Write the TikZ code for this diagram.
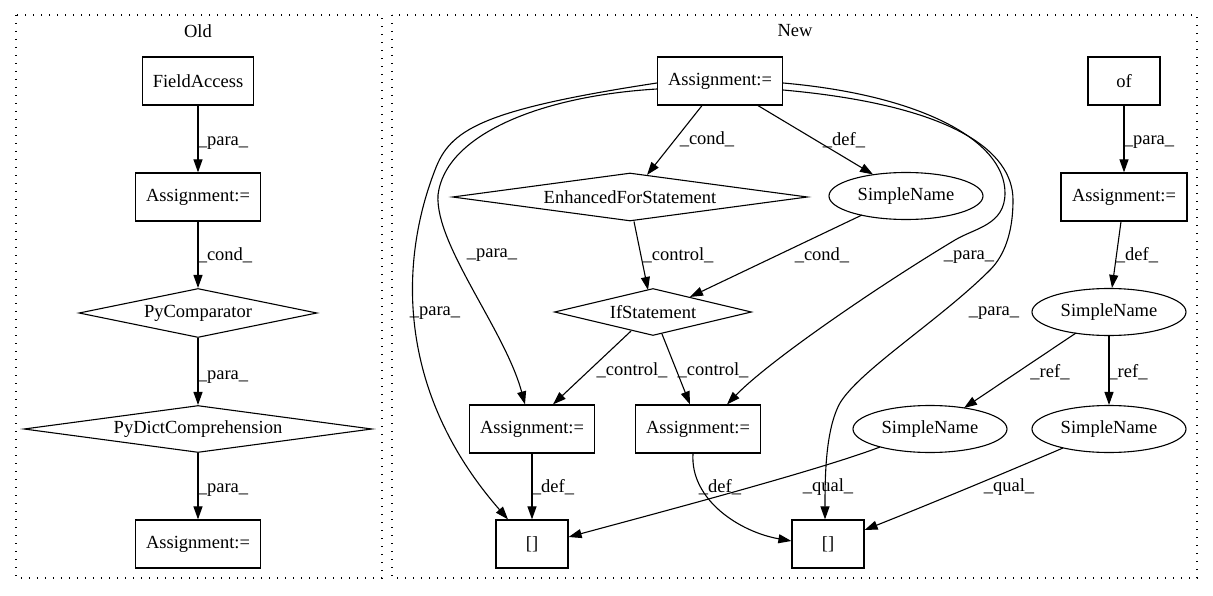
\documentclass[tikz,border=0pt]{standalone}
\usepackage{fontspec}
\setmainfont{Liberation Serif}
\usetikzlibrary{shapes.geometric,arrows.meta,calc}
\begin{document}
\begin{tikzpicture}[x=1pt,y=-1pt,
  every node/.style={font=\fontsize{18.5}{22}\selectfont},
  box/.style={draw, line width=1.2pt, minimum width=#1, minimum height=48, inner sep=0},
  dia/.style={draw, shape=diamond, line width=1.1pt, inner sep=0, aspect=6},
  ell/.style={draw, shape=ellipse, line width=1.1pt, inner sep=0, minimum width=154, minimum height=47},
  edge/.style={line width=1.1pt, -{Triangle[length=13pt,width=9pt]}},
  lab/.style={inner sep=0},
  cluster/.style={line width=1.3pt, dash pattern=on 1.3pt off 6.7pt}]
\useasboundingbox (0,0) rectangle (1213,596);
% clusters
\draw[cluster] (16,15) rectangle (382,578);
\draw[cluster] (392,15) rectangle (1197,578);
\node[lab] (tOld) at (198,31) {Old};
\node[lab] (tNew) at (795,31) {New};
% Old nodes
\node[box=111] (fa) at (198,81) {FieldAccess};
\node[box=125] (oa1) at (198,197) {Assignment:=};
\node[dia, minimum width=238, minimum height=49] (pc) at (198,313) {PyComparator};
\node[dia, minimum width=348, minimum height=47] (pdc) at (198,429) {PyDictComprehension};
\node[box=125] (oa2) at (198,544) {Assignment:=};
% Old edges
\draw[edge] (fa) -- (oa1);
\draw[edge] (oa1) -- (pc);
\draw[edge] (pc) -- (pdc);
\draw[edge] (pdc) -- (oa2);
\node[lab] (l1) at (223,143) {\_para\_};
\node[lab] (l2) at (225,255) {\_cond\_};
\node[lab] (l3) at (223,377) {\_para\_};
\node[lab] (l4) at (223,490) {\_para\_};
% New nodes
\node[box=125] (na) at (720,81) {Assignment:=};
\node[dia, minimum width=355, minimum height=48] (efs) at (630,197) {EnhancedForStatement};
\node[ell] (sn1) at (906,196) {SimpleName};
\node[dia, minimum width=197, minimum height=47] (ifs) at (653,312) {IfStatement};
\node[box=125] (na1) at (532,429) {Assignment:=};
\node[box=125] (na2) at (698,429) {Assignment:=};
\node[box=72] (br1) at (532,544) {[]};
\node[box=72] (br2) at (828,544) {[]};
\node[box=72] (of) at (1124,81) {of};
\node[box=126] (na3) at (1124,197) {Assignment:=};
\node[ell] (sn2) at (1109,312) {SimpleName};
\node[ell] (sn3) at (930,429) {SimpleName};
\node[ell] (sn4) at (1109,429) {SimpleName};
% New edges
\draw[edge] ($(na.south)+(-18,0)$) -- ($(efs.north)+(17,2.5)$);
\draw[edge] ($(na.south)+(38,0)$) -- ($(sn1.north)+(-33,2.5)$);
\draw[edge] ($(efs.south)+(4,0)$) -- ($(ifs.north)+(-5,2)$);
\draw[edge] ($(sn1.center)+(-44,19)$) -- ($(ifs.north)+(37,9)$);
\draw[edge] ($(ifs.south)+(-22,-5)$) -- ($(na1.north)+(21,0)$);
\draw[edge] ($(ifs.south)+(9,-2)$) -- ($(na2.north)+(-8,0)$);
\draw[edge] (na1) -- (br1);
\draw[edge] ($(na2.south)+(-5,0)$) .. controls (690,500) and (740,532) .. ($(br2.west)+(0,-3)$);
\draw[edge] (of) -- (na3);
\draw[edge] ($(na3.south)+(-3,0)$) -- ($(sn2.north)+(3,0)$);
\draw[edge] ($(sn2.center)+(-33,21)$) -- ($(sn3.center)+(34,-21)$);
\draw[edge] (sn2) -- (sn4);
\draw[edge] ($(sn3.center)+(-50,18)$) .. controls (820,470) and (650,515) .. ($(br1.east)+(0,-7)$);
\draw[edge] ($(sn4.center)+(-46,19)$) .. controls (1000,475) and (920,508) .. ($(br2.east)+(0,-14)$);
% curved para edges from na
\draw[edge] ($(na.west)+(0,8)$) .. controls (540,96) and (445,135) .. (438,195)
   .. controls (435,245) and (505,330) .. ($(na1.north)+(-7,0)$);
\draw[edge] ($(na.west)+(0,2)$) .. controls (480,110) and (450,130) .. (435,170)
   .. controls (400,260) and (395,390) .. ($(br1.north)+(-24,0)$);
\draw[edge] ($(na.east)+(0,2)$) .. controls (920,95) and (1005,140) .. (1005,193)
   .. controls (1005,225) and (975,228) .. (955,240)
   .. controls (880,285) and (770,360) .. ($(na2.north)+(29,0)$);
\draw[edge] ($(na.east)+(0,9)$) .. controls (950,105) and (1013,150) .. (1013,200)
   .. controls (1013,240) and (1000,260) .. (990,270)
   .. controls (940,320) and (860,370) .. (840,403)
   .. controls (825,430) and (825,480) .. ($(br2.north)+(-3,0)$);
% New labels
\node[lab] (m1) at (707,139) {\_cond\_};
\node[lab] (m2) at (844,140) {\_def\_};
\node[lab] (m3) at (678,255) {\_control\_};
\node[lab] (m4) at (822,255) {\_cond\_};
\node[lab] (m5) at (492,255) {\_para\_};
\node[lab] (m6) at (435,313) {\_para\_};
\node[lab] (m7) at (969,257) {\_para\_};
\node[lab] (m8) at (994,313) {\_para\_};
\node[lab] (m9) at (1149,142) {\_para\_};
\node[lab] (m10) at (1137,255) {\_def\_};
\node[lab] (m11) at (632,370) {\_control\_};
\node[lab] (m12) at (713,370) {\_control\_};
\node[lab] (m13) at (553,487) {\_def\_};
\node[lab] (m14) at (720,487) {\_def\_};
\node[lab] (m15) at (1050,372) {\_ref\_};
\node[lab] (m16) at (1128,372) {\_ref\_};
\node[lab] (m17) at (828,487) {\_qual\_};
\node[lab] (m18) at (1009,487) {\_qual\_};
\end{tikzpicture}
\end{document}
